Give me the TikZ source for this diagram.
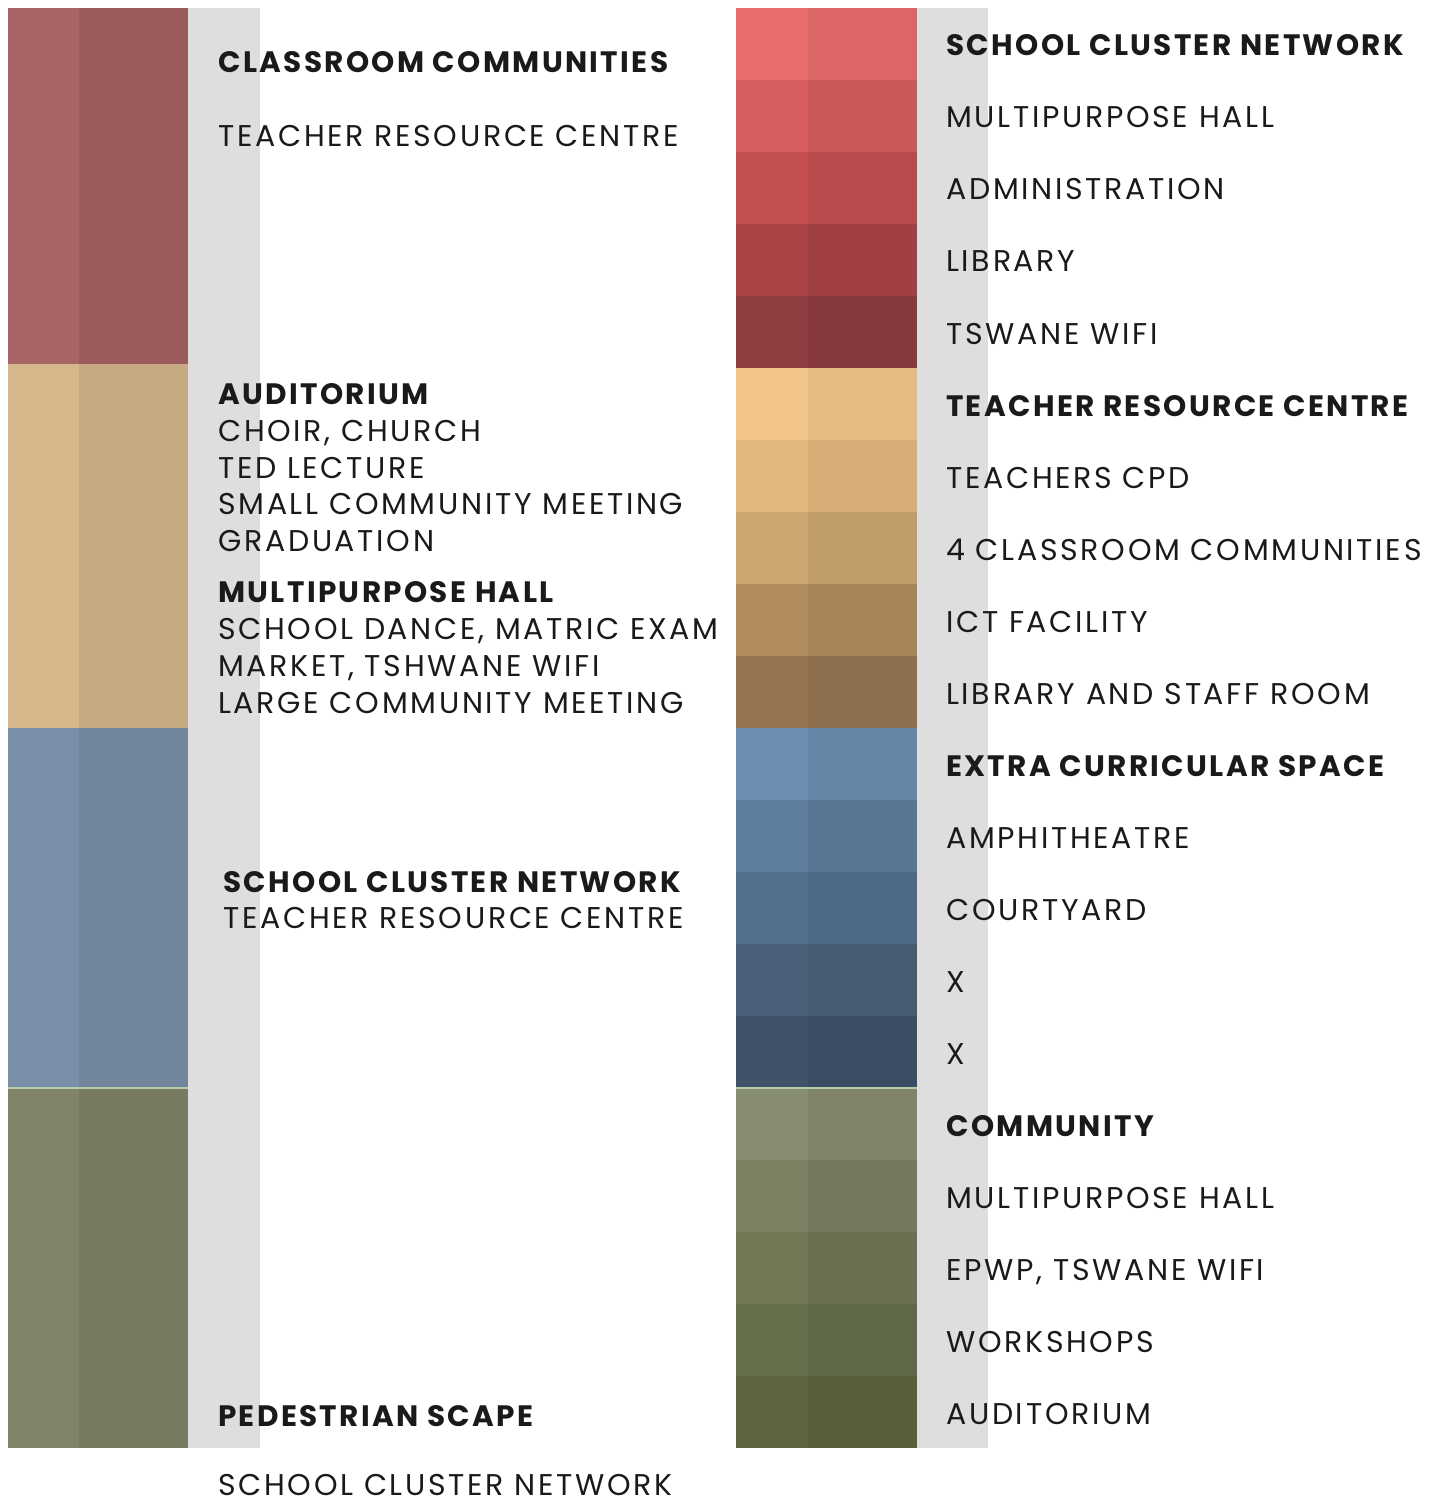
\documentclass[tikz,border=0pt]{standalone}
\usepackage{fontspec}
\setmainfont{Poppins}[LetterSpace=9, BoldFeatures={LetterSpace=8}]
\usepackage{tikz}
\usetikzlibrary{positioning}
\definecolor{ink}{HTML}{1A1A1A}
\definecolor{strip}{HTML}{DEDEDE}
\definecolor{seam}{HTML}{B8CCA8}
\tikzset{
  tx/.style={anchor=base west, inner sep=0pt, text=ink, font=\fontsize{30}{34}\selectfont},
  hd/.style={tx, font=\fontsize{29.5}{34}\selectfont\bfseries},
  half/.style={fill=black, opacity=0.05}
}

\begin{document}
\begin{tikzpicture}[x=1pt, y=-1pt]
  \useasboundingbox (0,0) rectangle (1440,1503);
  % grey strips behind the bars
  \fill[strip] (188,8) rectangle (260,1448);
  \fill[strip] (917,8) rectangle (988,1448);
  % left bar, four blocks
  \foreach \c/\ya/\yb in {A86466/8/364, D6B78C/364/728, 7A90A8/728/1088, 80856A/1088/1448} {
    \definecolor{tmp}{HTML}{\c}
    \fill[tmp] (8,\ya) rectangle (188,\yb);
    \fill[half, opacity=0.07] (79,\ya) rectangle (188,\yb);
  }
  % right bar, twenty rows
  \foreach \c [count=\i from 0] in {E86C6C, D65E5E, C45052, AA4446, 8F3D41,
      F2C688, E2B77C, CDA672, B28C5E, 967652,
      6C8EB0, 5E7E9E, 53708E, 4A6179, 3F5269,
      878D70, 7B8162, 717855, 666F4B, 5D663E} {
    \definecolor{tmp}{HTML}{\c}
    \fill[tmp] (736,{8+72*\i}) rectangle (917,{80+72*\i});
    \fill[half] (808,{8+72*\i}) rectangle (917,{80+72*\i});
  }
  % thin light seam where blue meets green
  \draw[seam, line width=1.2pt] (8,1088) -- (188,1088) (736,1088) -- (917,1088);
  % left labels
  \node[hd] (cc)  at (218,73)  {CLASSROOM COMMUNITIES};
  \node[tx] (cct) at (218,147) {TEACHER RESOURCE CENTRE};
  \foreach \t/\s/\y [count=\k] in {AUDITORIUM/hd/404, {CHOIR, CHURCH}/tx/441, TED LECTURE/tx/478,
      SMALL COMMUNITY MEETING/tx/514, GRADUATION/tx/551, MULTIPURPOSE HALL/hd/602,
      {SCHOOL DANCE, MATRIC EXAM}/tx/639, {MARKET, TSHWANE WIFI}/tx/676,
      LARGE COMMUNITY MEETING/tx/713} {
    \ifnum\k=1 \node[hd] (au\k) at (218,\y) {\t};
    \else\ifnum\k=6 \node[hd] (au\k) at (218,\y) {\t};
    \else \node[tx] (au\k) at (218,\y) {\t}; \fi\fi
  }
  \node[hd] (sc)  at (223,892)  {SCHOOL CLUSTER NETWORK};
  \node[tx] (sct) at (223,928)  {TEACHER RESOURCE CENTRE};
  \node[hd] (ps)  at (218,1426) {PEDESTRIAN SCAPE};
  \node[tx] (pst) at (218,1495) {SCHOOL CLUSTER NETWORK};
  % right labels, a heading every fifth row
  \foreach \t [count=\i from 0] in {SCHOOL CLUSTER NETWORK, MULTIPURPOSE HALL, ADMINISTRATION,
      LIBRARY, TSWANE WIFI, TEACHER RESOURCE CENTRE, TEACHERS CPD, 4 CLASSROOM COMMUNITIES,
      ICT FACILITY, LIBRARY AND STAFF ROOM, EXTRA CURRICULAR SPACE, AMPHITHEATRE, COURTYARD,
      X, X, COMMUNITY, MULTIPURPOSE HALL, {EPWP, TSWANE WIFI}, WORKSHOPS, AUDITORIUM} {
    \pgfmathtruncatemacro{\m}{mod(\i,5)}
    \ifnum\m=0 \node[hd] (r\i) at (946,{56+72*\i}) {\t};
    \else \node[tx] (r\i) at (946,{56+72*\i}) {\t}; \fi
  }
\end{tikzpicture}
\end{document}
